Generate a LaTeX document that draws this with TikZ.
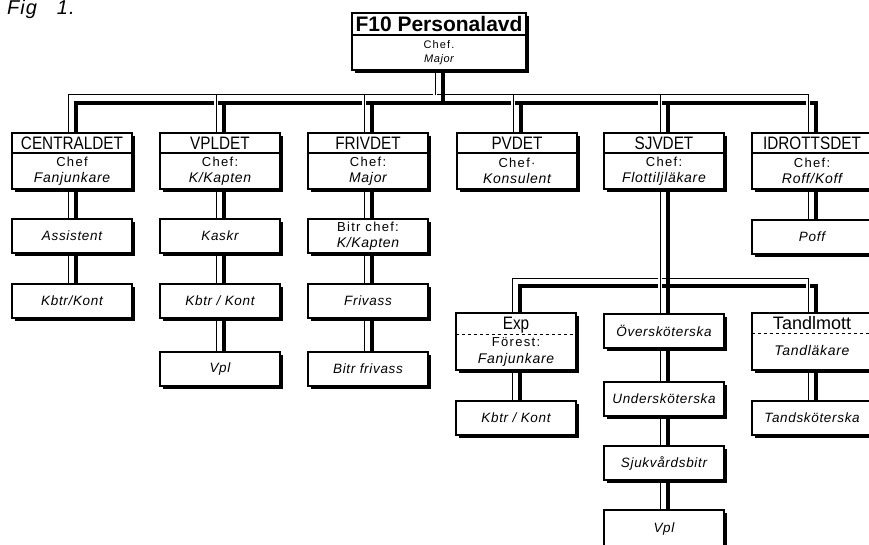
\documentclass[tikz,border=0pt]{standalone}
\usepackage{fontspec}
\setmainfont{Liberation Sans}[ItalicFeatures={LetterSpace=5}]
\newfontfamily\condfont[FakeStretch=0.85]{Liberation Sans}
\newfontfamily\widefont[LetterSpace=10]{Liberation Sans}
\newcommand\rank[1]{{\rmfamily\itshape\fontsize{14}{16}\selectfont #1}}
\usetikzlibrary{positioning, shadows, backgrounds}

\begin{document}
\begin{tikzpicture}[
    x=1pt, y=-1pt,
    box/.style={draw, fill=white, line width=1.3pt, inner sep=0pt, outer sep=0pt,
        minimum width=120pt, align=center,
        drop shadow={shadow xshift=3pt, shadow yshift=-3pt, fill=black, opacity=1}},
    head/.style={box, minimum height=20pt, font=\condfont\fontsize{18}{18}\selectfont},
    body/.style={box, minimum height=36pt, font=\widefont\fontsize{13}{16.5}\selectfont},
    post/.style={box, minimum height=34pt, font=\itshape\fontsize{13.5}{15}\selectfont},
    line/.style={anchor=base, inner sep=0pt, font=\widefont\fontsize{13}{16}\selectfont},
    fine/.style={line width=1pt, preaction={draw=white, line width=4pt}},
    heavy/.style={line width=4pt},
]
    \useasboundingbox (0,0) rectangle (869,545);
    \clip (0,0) rectangle (869,545);

    \node[anchor=base west, inner sep=0pt, font=\itshape\fontsize{20}{20}\selectfont] (fig) at (7,15) {Fig\hspace{20pt}1.};

    % top
    \node[head, minimum width=174pt, minimum height=22pt, font=\bfseries\fontsize{21}{21}\selectfont] (f10) at (439,24) {F10 Personalavd};
    \node[body, minimum width=174pt, minimum height=35pt, font=\widefont\fontsize{11}{14}\selectfont, below=0pt of f10] (f10b) {Chef.\\{\rmfamily\itshape Major}};

    % departments
    \node[head] (cen) at (72,143) {CENTRALDET};
    \node[body, below=0pt of cen] (cenb) {Chef\\\rank{Fanjunkare}};
    \node[head] (vpl) at (220,143) {VPLDET};
    \node[body, below=0pt of vpl] (vplb) {Chef:\\\rank{K/Kapten}};
    \node[head] (friv) at (368,143) {FRIVDET};
    \node[body, below=0pt of friv] (frivb) {Chef:\\\rank{Major}};
    \node[head] (pv) at (517,143) {PVDET};
    \node[body, below=0pt of pv] (pvb) {Chef·\\\rank{Konsulent}};
    \node[head] (sjv) at (664,143) {SJVDET};
    \node[body, below=0pt of sjv] (sjvb) {Chef:\\\rank{Flottiljläkare}};
    \node[head] (idr) at (812,143) {IDROTTSDET};
    \node[body, below=0pt of idr] (idrb) {Chef:\\\rank{Roff/Koff}};

    % posts
    \node[post] (ass) at (72,236) {Assistent};
    \node[post] (cenk) at (72,301) {Kbtr/Kont};
    \node[post] (kaskr) at (220,236) {Kaskr};
    \node[post] (vplk) at (220,301) {Kbtr / Kont};
    \node[post] (vplv) at (220,369) {Vpl};
    \node[post, font=\widefont\fontsize{13}{16}\selectfont] (bitr) at (368,236) {Bitr chef:\\\rank{K/Kapten}};
    \node[post] (frivass) at (368,301) {Frivass};
    \node[post] (bitrf) at (368,369) {Bitr frivass};
    \node[post] (poff) at (812,237) {Poff};

    % under SJVDET
    \node[box, minimum height=57pt] (exp) at (516,341.5) {};
    \draw[dashed, line width=1pt] ([yshift=-21pt]exp.north west) -- ([yshift=-21pt]exp.north east);
    \node[line, font=\condfont\fontsize{18}{18}\selectfont] (expt) at ([yshift=-16pt]exp.north) {Exp};
    \node[line] (expf) at ([yshift=-33pt]exp.north) {Förest:};
    \node[line] (expc) at ([yshift=-50pt]exp.north) {\rank{Fanjunkare}};
    \node[post] (expk) at (516,418) {Kbtr / Kont};
    \node[post] (over) at (664,331) {Översköterska};
    \node[post] (under) at (664,399) {Undersköterska};
    \node[post] (sjuk) at (664,463) {Sjukvårdsbitr};
    \node[post, minimum height=38pt] (sjvpl) at (664,529) {Vpl};
    \node[box, minimum height=57pt] (tand) at (812,341.5) {};
    \draw[dashed, line width=1pt] ([yshift=-20pt]tand.north west) -- ([yshift=-20pt]tand.north east);
    \node[line, font=\fontsize{18}{18}\selectfont] (tandt) at ([yshift=-16pt]tand.north) {Tandlmott};
    \node[line] (tandl) at ([yshift=-42pt]tand.north) {\rank{Tandläkare}};
    \node[post] (tandsk) at (812,418) {Tandsköterska};

    % connectors
    \begin{scope}[on background layer]
        \coordinate (bus) at (0,95);
        \coordinate (bus2) at (0,103);
        \coordinate (sub) at (0,278);
        \coordinate (sub2) at (0,286);
        \draw[heavy] ([xshift=4pt]cen.north) |- ([xshift=4pt]idr.north |- bus2) -- ([xshift=4pt]idr.north);
        \draw[heavy] ([xshift=4pt]exp.north) |- ([xshift=4pt]tand.north |- sub2) -- ([xshift=4pt]tand.north);
        \foreach \n in {vpl,friv,pv,sjv}
            \draw[heavy] ([xshift=4pt]\n.north) -- ([xshift=4pt]\n.north |- bus2);
        \draw[fine] ([xshift=-4pt]cen.north) |- ([xshift=-4pt]idr.north |- bus) -- ([xshift=-4pt]idr.north);
        \draw[fine] ([xshift=-4pt]exp.north) |- ([xshift=-4pt]tand.north |- sub) -- ([xshift=-4pt]tand.north);
        \foreach \n in {vpl,friv,pv,sjv}
            \draw[fine] ([xshift=-4pt]\n.north) -- ([xshift=-4pt]\n.north |- bus);
        \draw[fine] ([xshift=-4pt]f10b.south) -- ([xshift=-4pt]f10b.south |- bus);
        \draw[fine] ([xshift=-4pt]sjvb.south) -- ([xshift=-4pt]over.north);
        \draw[heavy] ([xshift=4pt]f10b.south) -- ([xshift=4pt]f10b.south |- bus2);
        \draw[heavy] ([xshift=4pt]sjvb.south) -- ([xshift=4pt]over.north);
        \foreach \a/\b in {cenb/ass, ass/cenk, vplb/kaskr, kaskr/vplk, vplk/vplv,
                frivb/bitr, bitr/frivass, frivass/bitrf, idrb/poff, exp/expk,
                over/under, under/sjuk, sjuk/sjvpl, tand/tandsk} {
            \draw[fine] ([xshift=-4pt]\a.south) -- ([xshift=-4pt]\b.north);
            \draw[heavy] ([xshift=4pt]\a.south) -- ([xshift=4pt]\b.north);
        }
    \end{scope}
\end{tikzpicture}
\end{document}
